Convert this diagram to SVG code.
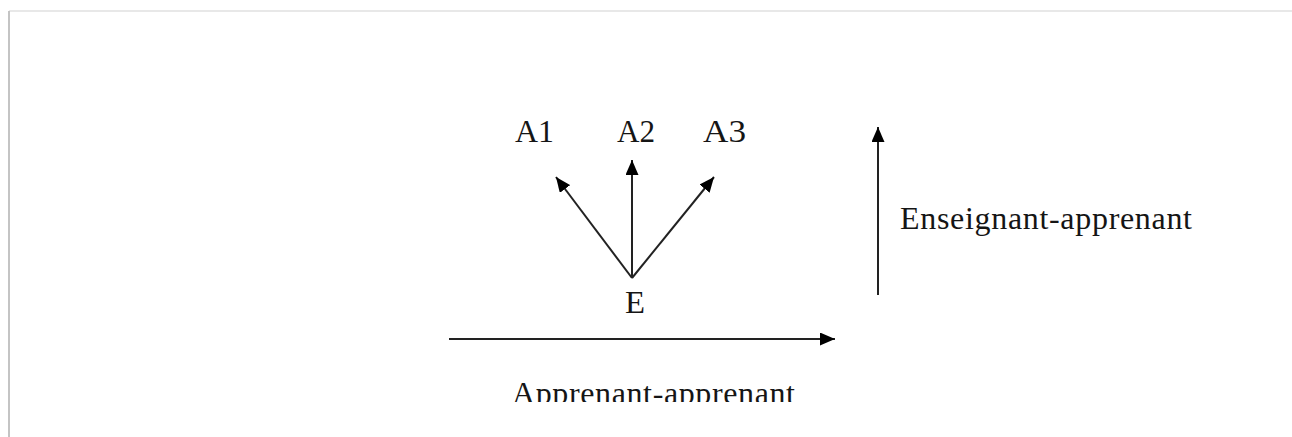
<svg xmlns="http://www.w3.org/2000/svg" width="1292" height="437" viewBox="0 0 1292 437">
  <style>
    .lbl { font-family: "Liberation Serif", "Times New Roman", serif; font-size: 32px; fill: #151515; }
    .conn { stroke: #222; stroke-width: 2; fill: none; }
  </style>
  <defs>
    <marker id="arrow" markerUnits="userSpaceOnUse" markerWidth="16" markerHeight="13" refX="15" refY="6.5" orient="auto">
      <path d="M0,0 L15,6.5 L0,13 z" fill="#000"/>
    </marker>
    <clipPath id="bottomClip">
      <rect x="0" y="0" width="1292" height="402"/>
    </clipPath>
  </defs>
  <rect x="0" y="0" width="1292" height="437" fill="#fff"/>
  <line x1="9" y1="11" x2="1292" y2="11" stroke="#e8e8e8" stroke-width="2"/>
  <line x1="9" y1="11" x2="9" y2="437" stroke="#c4c4c4" stroke-width="2"/>

  <g id="connectors">
    <line class="conn" x1="632" y1="278" x2="556" y2="177" marker-end="url(#arrow)"/>
    <line class="conn" x1="632" y1="278" x2="632" y2="160" marker-end="url(#arrow)"/>
    <line class="conn" x1="632" y1="278" x2="714" y2="177" marker-end="url(#arrow)"/>
    <line class="conn" x1="449" y1="339" x2="835" y2="339" marker-end="url(#arrow)"/>
    <line class="conn" x1="878" y1="295" x2="878" y2="127" marker-end="url(#arrow)"/>
  </g>

  <g id="node-A1"><text class="lbl" x="515" y="142" textLength="39" lengthAdjust="spacingAndGlyphs">A1</text></g>
  <g id="node-A2"><text class="lbl" x="617" y="142" textLength="38" lengthAdjust="spacingAndGlyphs">A2</text></g>
  <g id="node-A3"><text class="lbl" x="703" y="142" textLength="43" lengthAdjust="spacingAndGlyphs">A3</text></g>
  <g id="node-E"><text class="lbl" x="625" y="313" textLength="20" lengthAdjust="spacingAndGlyphs">E</text></g>
  <g id="label-enseignant"><text class="lbl" x="900" y="229" textLength="292">Enseignant-apprenant</text></g>
  <g id="label-apprenant" clip-path="url(#bottomClip)"><text class="lbl" x="512" y="404" textLength="283">Apprenant-apprenant</text></g>
</svg>
